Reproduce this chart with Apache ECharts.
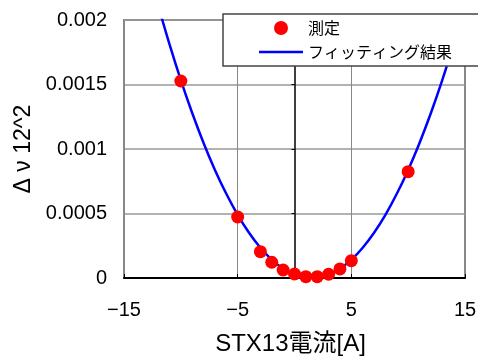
<!DOCTYPE html>
<html>
<head>
<meta charset="utf-8">
<script src="https://cdn.jsdelivr.net/npm/echarts@6/dist/echarts.min.js"></script>
<style>
  html, body { margin: 0; padding: 0; background: #fff; }
  #chart { width: 478px; height: 356px; }
</style>
</head>
<body>
<div id="chart"></div>
<script>
// Measured points: STX13 current [A] vs Δν12^2
const currentA = [-10, -5, -3, -2, -1, 0, 1, 2, 3, 4, 5, 10];
const dnu2 = [0.001527, 0.000473, 0.000204, 0.000122, 0.000062, 0.000031,
              0.00001, 0.00001, 0.000029, 0.00007, 0.000134, 0.000824];

// Fitted curve, sampled every 1 A
const fitX = [-12, -11, -10, -9, -8, -7, -6, -5, -4, -3, -2, -1, 0, 1,
              2, 3, 4, 5, 6, 7, 8, 9, 10, 11, 12, 13, 14, 15];
const fitY = [0.002114, 0.001813, 0.001534, 0.001279, 0.001047, 0.000838,
              0.000653, 0.000490, 0.000351, 0.000235, 0.000142, 0.0000725,
              0.0000261, 0.0000029, 0.0000029, 0.0000261, 0.0000725, 0.000142,
              0.000235, 0.000351, 0.000490, 0.000653, 0.000838, 0.001047,
              0.001279, 0.001534, 0.001813, 0.002114];

const seriesNames = ['測定', 'フィッティング結果'];
const xTitle = 'STX13電流[A]';
const yTitle = 'Δ ν 12^2';

const FONT = '"Liberation Sans", "Noto Sans CJK JP", sans-serif';
const CJK = '"Noto Sans CJK JP", "Liberation Sans", sans-serif';

const chart = echarts.init(document.getElementById('chart'));
chart.setOption({
  animation: false,
  textStyle: { fontFamily: FONT, color: '#000' },
  grid: {
    left: 124, right: 13, top: 20, bottom: 78,
    containLabel: false, outerBoundsMode: 'none',
    show: true, borderColor: '#888', borderWidth: 2, backgroundColor: '#fff'
  },
  xAxis: {
    type: 'value', min: -15, max: 15, interval: 10,
    name: xTitle, nameLocation: 'middle', nameGap: 54,
    nameTextStyle: { fontSize: 24, fontFamily: FONT, color: '#000', padding: [0, 8, 0, 0] },
    axisLine: { onZero: false, lineStyle: { color: '#000', width: 2 } },
    axisTick: { inside: true, length: 4, lineStyle: { color: '#000' } },
    axisLabel: { fontSize: 20, margin: 22, color: '#000', fontFamily: FONT,
                 formatter: v => (v < 0 ? '\u2212' + Math.abs(v) : String(v)) },
    splitLine: { show: true, lineStyle: { color: '#888', width: 1 } }
  },
  yAxis: [
    {
      type: 'value', min: 0, max: 0.002, interval: 0.0005,
      name: yTitle, nameLocation: 'middle', nameGap: 87, nameRotate: 90,
      nameTextStyle: { fontSize: 23, fontFamily: FONT, color: '#000' },
      axisLine: { show: false, onZero: false },
      axisTick: { show: false },
      axisLabel: { fontSize: 20, margin: 17, color: '#000', fontFamily: FONT },
      splitLine: { show: true, lineStyle: { color: '#999', width: 1.5 } }
    },
    {
      type: 'value', min: 0, max: 0.002, interval: 0.0005,
      axisLine: { show: true, onZero: true, lineStyle: { color: '#000', width: 1.5 } },
      axisTick: { show: true, inside: true, length: 3, lineStyle: { color: '#000' } },
      axisLabel: { show: false },
      splitLine: { show: false }
    }
  ],
  legend: {
    orient: 'vertical', left: 259, top: 20, padding: 0,
    itemWidth: 44, itemHeight: 14, itemGap: 8, z: 110,
    textStyle: { fontSize: 16, lineHeight: 16, color: '#000', fontFamily: CJK },
    data: [
      { name: seriesNames[0], icon: 'circle' },
      { name: seriesNames[1], icon: 'path://M0,0h44v2.5h-44z' }
    ]
  },
  graphic: [{
    type: 'rect', z: 100,
    shape: { x: 223, y: 14, width: 270, height: 52 },
    style: { fill: '#fff', stroke: '#444', lineWidth: 1.5 }
  }],
  series: [
    {
      name: seriesNames[1], type: 'line', smooth: 0.4, symbol: 'none',
      data: fitX.map((x, i) => [x, fitY[i]]),
      lineStyle: { color: '#0000ff', width: 2.5 }, itemStyle: { color: '#0000ff' },
      clip: true, z: 3
    },
    {
      name: seriesNames[0], type: 'scatter', symbol: 'circle', symbolSize: 13,
      data: currentA.map((x, i) => [x, dnu2[i]]),
      itemStyle: { color: '#ff0000', opacity: 1 }, z: 4
    }
  ]
});
</script>
</body>
</html>
